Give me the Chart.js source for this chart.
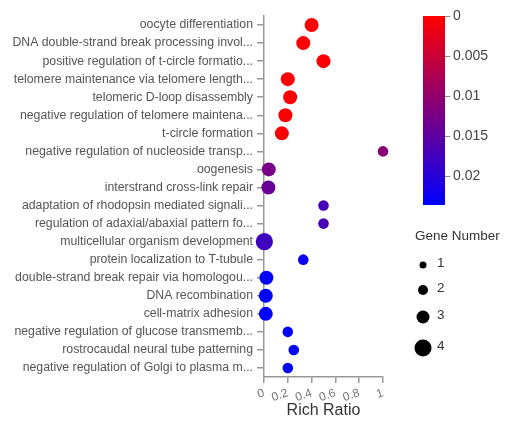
<!DOCTYPE html>
<html><head><meta charset="utf-8">
<script src="https://cdn.jsdelivr.net/npm/chart.js@4/dist/chart.umd.min.js"></script>
<style>html,body{margin:0;padding:0;background:#fff}</style>
</head><body>
<canvas id="c" width="505" height="426"></canvas>
<script>
const categories = [
  'oocyte differentiation',
  'DNA double-strand break processing invol...',
  'positive regulation of t-circle formatio...',
  'telomere maintenance via telomere length...',
  'telomeric D-loop disassembly',
  'negative regulation of telomere maintena...',
  't-circle formation',
  'negative regulation of nucleoside transp...',
  'oogenesis',
  'interstrand cross-link repair',
  'adaptation of rhodopsin mediated signali...',
  'regulation of adaxial/abaxial pattern fo...',
  'multicellular organism development',
  'protein localization to T-tubule',
  'double-strand break repair via homologou...',
  'DNA recombination',
  'cell-matrix adhesion',
  'negative regulation of glucose transmemb...',
  'rostrocaudal neural tube patterning',
  'negative regulation of Golgi to plasma m...'
];
const richRatio = [0.40, 0.33, 0.50, 0.20, 0.22, 0.18, 0.15, 1.00, 0.04, 0.037, 0.50, 0.50, 0.003, 0.33, 0.02, 0.015, 0.015, 0.20, 0.25, 0.20];
const pValues   = [0.0002, 0.0003, 0.0003, 0.0004, 0.0004, 0.0004, 0.0005, 0.0108, 0.0125, 0.014, 0.017, 0.017, 0.0178, 0.0225, 0.0236, 0.0236, 0.0236, 0.0236, 0.0236, 0.0236];
const geneNumber = [2, 2, 2, 2, 2, 2, 2, 1, 2, 2, 1, 1, 3, 1, 2, 2, 2, 1, 1, 1];
const xTicks = [0, 0.2, 0.4, 0.6, 0.8, 1];
const colorTicks = [0, 0.005, 0.01, 0.015, 0.02];
const colorMax = 0.0236;
const legendCounts = [1, 2, 3, 4];

const FONT = "'Liberation Sans', Arial, sans-serif";
const plotRadius = {1: 5.3, 2: 7, 3: 8.6, 4: 10};
const legendRadius = {1: 3.5, 2: 5, 3: 6.5, 4: 8.5};

function colorFor(p) {
  const t = Math.max(0, Math.min(1, p / colorMax));
  return 'rgb(' + Math.round(255 * (1 - t)) + ',0,' + Math.round(255 * t) + ')';
}

const sidePlugin = {
  id: 'side',
  afterDraw(chart) {
    const ctx = chart.ctx;
    ctx.save();
    // colour bar
    const bx = 423, bw = 22, top = 16, bottom = 205;
    const g = ctx.createLinearGradient(0, top, 0, bottom);
    g.addColorStop(0, 'rgb(255,0,0)');
    g.addColorStop(1, 'rgb(0,0,255)');
    ctx.fillStyle = g;
    ctx.fillRect(bx, top, bw, bottom - top);
    ctx.strokeStyle = '#888';
    ctx.lineWidth = 1;
    ctx.fillStyle = '#444';
    ctx.font = '14px ' + FONT;
    ctx.textBaseline = 'middle';
    ctx.textAlign = 'left';
    colorTicks.forEach(v => {
      const y = top + (v / colorMax) * (bottom - top);
      ctx.beginPath();
      ctx.moveTo(bx + bw, Math.round(y) + 0.5);
      ctx.lineTo(bx + bw + 5, Math.round(y) + 0.5);
      ctx.stroke();
      ctx.fillText(String(v), bx + bw + 8, y);
    });
    // gene number legend
    ctx.font = '13.5px ' + FONT;
    ctx.fillStyle = '#333';
    ctx.fillText('Gene Number', 415, 236);
    const ys = [265, 290, 317, 348];
    legendCounts.forEach((n, i) => {
      ctx.fillStyle = '#000';
      ctx.beginPath();
      ctx.arc(423, ys[i], legendRadius[n], 0, Math.PI * 2);
      ctx.fill();
      ctx.fillStyle = '#333';
      ctx.fillText(String(n), 437, ys[i] - 2);
    });
    ctx.restore();
  }
};

const colors = pValues.map(colorFor);
const radii = geneNumber.map(n => plotRadius[n]);

new Chart(document.getElementById('c'), {
  type: 'scatter',
  data: {
    labels: categories,
    datasets: [{
      data: categories.map((c, i) => ({x: richRatio[i], y: c})),
      backgroundColor: colors,
      borderColor: colors,
      borderWidth: 0,
      pointRadius: radii,
      pointHoverRadius: radii,
      clip: false
    }]
  },
  options: {
    responsive: false,
    animation: false,
    devicePixelRatio: 1,
    layout: {padding: {top: 16, right: 122, bottom: 0, left: 0}},
    plugins: {legend: {display: false}, tooltip: {enabled: false}},
    scales: {
      x: {
        type: 'linear', min: 0, max: 1,
        afterBuildTicks: s => { s.ticks = xTicks.map(v => ({value: v})); },
        ticks: {
          callback: v => String(v),
          minRotation: 18, maxRotation: 18,
          color: '#777', font: {family: FONT, size: 12}, padding: 3
        },
        grid: {drawOnChartArea: false, drawTicks: true, tickLength: 6, color: '#999', lineWidth: 1.5},
        border: {display: true, color: '#999', width: 1.5},
        title: {display: true, text: 'Rich Ratio', color: '#333', font: {family: FONT, size: 16}, padding: {top: 0, bottom: 6}},
        afterFit: s => { s.height = 49; }
      },
      y: {
        type: 'category', labels: categories, offset: true,
        ticks: {color: '#555', font: {family: FONT, size: 12.3}, padding: 4, autoSkip: false},
        grid: {drawOnChartArea: false, drawTicks: true, tickLength: 7, color: '#999', lineWidth: 1.5, offset: false},
        border: {display: true, color: '#999', width: 1.5},
        afterFit: s => { s.width = 264; }
      }
    }
  },
  plugins: [sidePlugin]
});
</script>
</body></html>
